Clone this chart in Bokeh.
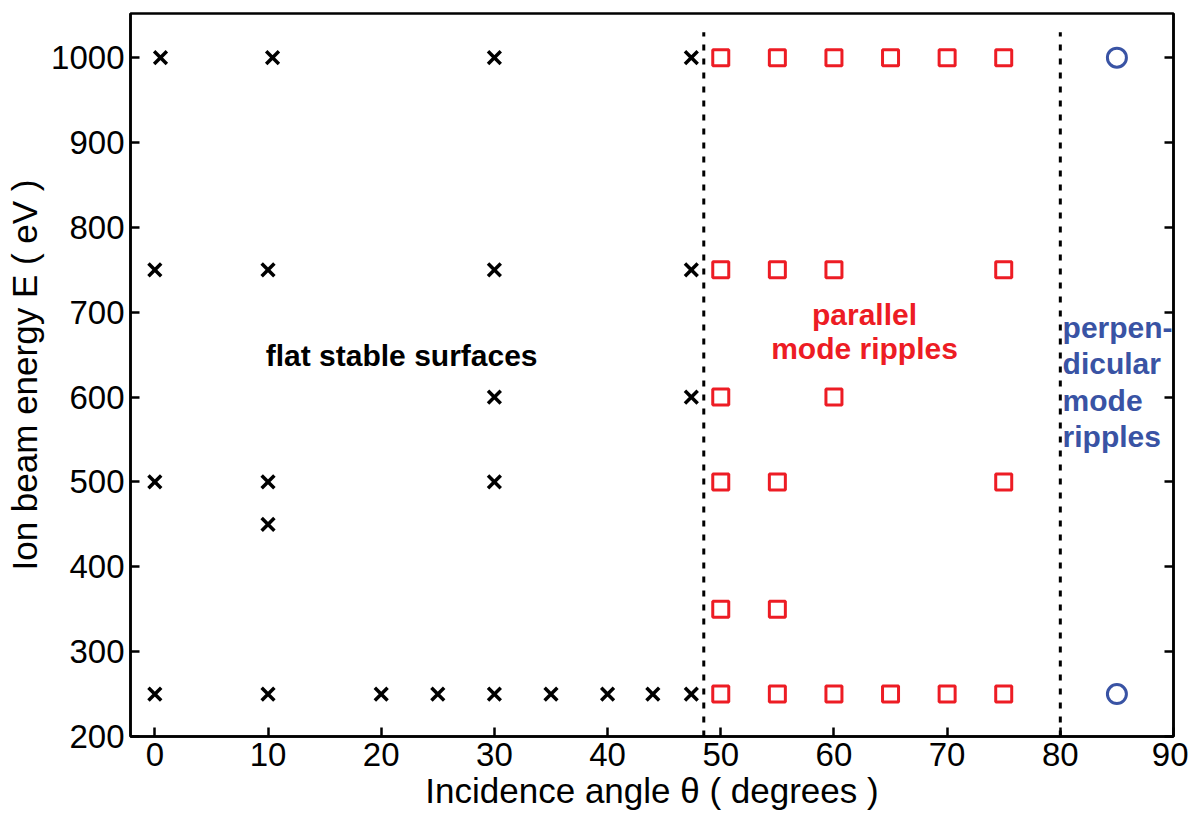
from bokeh.plotting import figure
from bokeh.models import Range1d, LinearAxis, FixedTicker, CustomJSTickFormatter
from bokeh.core.properties import value
from bokeh.embed import file_html
from bokeh.resources import INLINE

# ---- data ----
flat_angle = [0.5, 10.4, 30, 47.4,
              0, 10, 30, 47.4,
              30, 47.4,
              0, 10, 30,
              10,
              0, 10, 20, 25, 30, 35, 40, 44, 47.4]
flat_energy = [1000, 1000, 1000, 1000,
               750, 750, 750, 750,
               600, 600,
               500, 500, 500,
               450,
               250, 250, 250, 250, 250, 250, 250, 250, 250]

par_angle = [50, 55, 60, 65, 70, 75,
             50, 55, 60, 75,
             50, 60,
             50, 55, 75,
             50, 55,
             50, 55, 60, 65, 70, 75]
par_energy = [1000, 1000, 1000, 1000, 1000, 1000,
              750, 750, 750, 750,
              600, 600,
              500, 500, 500,
              350, 350,
              250, 250, 250, 250, 250, 250]

perp_angle = [85, 85]
perp_energy = [1000, 250]

boundary_angle = [48.5, 80]
boundary_low = [200, 200]
boundary_high = [1030, 1030]

x_ticks = [0, 10, 20, 30, 40, 50, 60, 70, 80, 90]
y_ticks = [200, 300, 400, 500, 600, 700, 800, 900, 1000]

flat_text = ["flat stable surfaces"]
flat_tx = [9.8]
flat_ty = [649]

par_text = ["parallel", "mode ripples"]
par_tx = [62.7, 62.7]
par_ty = [697, 657]

perp_text = ["perpen-", "dicular", "mode", "ripples"]
perp_tx = [80.2, 80.2, 80.2, 80.2]
perp_ty = [682, 639, 596, 553]

RED = "#ED1C24"
BLUE = "#3953A4"
FONT = "Liberation Sans"

p = figure(width=1188, height=812, output_backend="svg", toolbar_location=None,
           x_range=Range1d(-2.15, 90), y_range=Range1d(200, 1052),
           min_border_left=130, min_border_right=15, min_border_top=13,
           min_border_bottom=10)

p.xgrid.visible = False
p.ygrid.visible = False
p.outline_line_color = "black"
p.outline_line_width = 2.5
p.outline_line_alpha = 1.0

for ax, ticks in ((p.xaxis[0], x_ticks), (p.yaxis[0], y_ticks)):
    ax.ticker = FixedTicker(ticks=ticks)
    ax.axis_line_width = 2.5
    ax.major_tick_line_width = 2.5
    ax.major_tick_in = 9
    ax.major_tick_out = 0
    ax.minor_tick_line_color = None
    ax.major_label_text_font = FONT
    ax.major_label_text_font_size = "33px"
    ax.major_label_text_color = "black"
    ax.axis_label_text_font = FONT
    ax.axis_label_text_font_size = "35px"
    ax.axis_label_text_font_style = "normal"
    ax.axis_label_text_color = "black"

p.xaxis[0].axis_label = "Incidence angle θ ( degrees )"
p.yaxis[0].axis_label = "Ion beam energy E ( eV )"
p.xaxis[0].major_label_standoff = 6
p.xaxis[0].axis_label_standoff = 2
p.yaxis[0].major_label_standoff = 6
p.yaxis[0].axis_label_standoff = 4

right = LinearAxis(ticker=FixedTicker(ticks=y_ticks),
                   formatter=CustomJSTickFormatter(code="return ''"))
right.axis_line_width = 2.5
right.major_tick_line_width = 2.5
right.major_tick_in = 9
right.major_tick_out = 0
right.minor_tick_line_color = None
right.major_label_standoff = 0
p.add_layout(right, "right")

# boundaries
p.segment(x0=boundary_angle, y0=boundary_low, x1=boundary_angle, y1=boundary_high,
          line_color="black", line_width=3, line_dash="6 8")

# markers
p.scatter(flat_angle, flat_energy, marker="x", size=18, line_color="black", line_width=3.5)
p.scatter(par_angle, par_energy, marker="square", size=16, fill_color=None,
          line_color=RED, line_width=3)
p.scatter(perp_angle, perp_energy, marker="circle", size=19, fill_color=None,
          line_color=BLUE, line_width=3)

# annotations
p.text(flat_tx, flat_ty, text=flat_text, text_font=value(FONT), text_font_size="30px",
       text_font_style="bold", text_color="black", text_align="left",
       text_baseline="alphabetic")
p.text(par_tx, par_ty, text=par_text, text_font=value(FONT), text_font_size="30px",
       text_font_style="bold", text_color=RED, text_align="center",
       text_baseline="alphabetic")
p.text(perp_tx, perp_ty, text=perp_text, text_font=value(FONT), text_font_size="30px",
       text_font_style="bold", text_color=BLUE, text_align="left",
       text_baseline="alphabetic")

open("out.html", "w").write(file_html(p, INLINE))
